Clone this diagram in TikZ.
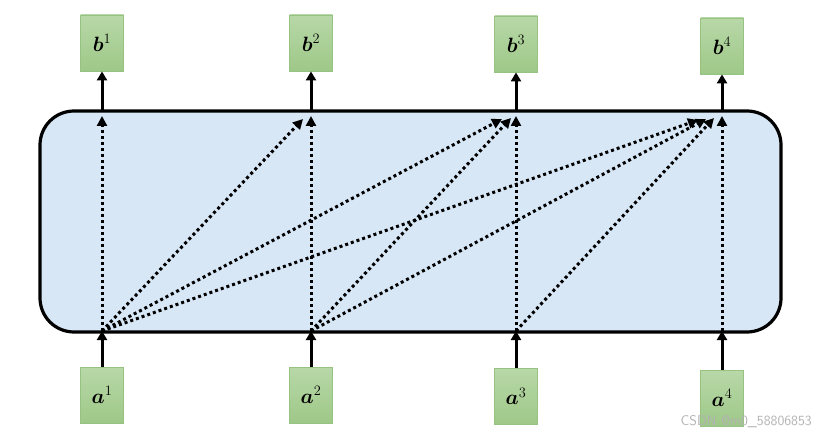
\documentclass[tikz,border=0pt]{standalone}
\usepackage{amsmath,bm}
\usetikzlibrary{arrows.meta}
\definecolor{boxfill}{RGB}{216,231,246}
\definecolor{gtop}{RGB}{184,216,168}
\definecolor{gbot}{RGB}{158,200,136}
\definecolor{gedge}{RGB}{150,195,130}
\begin{document}
\begin{tikzpicture}[x=1pt,y=-1pt,
  vec/.style={draw=gedge,line width=0.8pt,top color=gtop,bottom color=gbot,minimum width=43pt,minimum height=56pt,inner sep=0pt,font=\fontsize{22}{24}\selectfont},
  solidarr/.style={line width=3pt,-{Triangle[length=9pt,width=10pt]}},
  dotarr/.style={line width=3pt,dash pattern=on 3pt off 3pt,-{Triangle[length=10pt,width=10pt]}}]
\useasboundingbox (0,0) rectangle (837,438);
\node[draw,line width=3.2pt,fill=boxfill,rounded corners=34pt,minimum width=741pt,minimum height=221pt,inner sep=0pt] (box) at (410.5,221.5) {};
% outputs
\node[vec] (b1) at (102,43) {$\bm{b}^{1}$};
\node[vec] (b2) at (311,43) {$\bm{b}^{2}$};
\node[vec] (b3) at (516,44) {$\bm{b}^{3}$};
\node[vec] (b4) at (722,46) {$\bm{b}^{4}$};
% inputs
\node[vec] (a1) at (102,395) {$\bm{a}^{1}$};
\node[vec] (a2) at (311,395) {$\bm{a}^{2}$};
\node[vec] (a3) at (516,396.5) {$\bm{a}^{3}$};
\node[vec] (a4) at (722,398) {$\bm{a}^{4}$};
% points in box
\coordinate (i1) at (102,331);
\coordinate (i2) at (311,331);
\coordinate (i3) at (516,331);
\coordinate (i4) at (722,331);
\coordinate (o1) at (102,116);
\coordinate (o2) at (311,116);
\coordinate (o3) at (516,116);
\coordinate (o4) at (722,116);
\coordinate (o2a) at (303,119);
\coordinate (o3a) at (502,119);
\coordinate (o3b) at (511,118);
\coordinate (o4a) at (698,120);
\coordinate (o4b) at (706,119);
\coordinate (o4c) at (714,118);
\coordinate (t1) at (102,111);
\coordinate (t2) at (311,111);
\coordinate (t3) at (516,111);
\coordinate (t4) at (722,111);
% solid arrows
\draw[solidarr] (t1) -- (b1.south);
\draw[solidarr] (t2) -- (b2.south);
\draw[solidarr] (t3) -- (b3.south);
\draw[solidarr] (t4) -- (b4.south);
\draw[solidarr] (a1.north) -- (i1);
\draw[solidarr] (a2.north) -- (i2);
\draw[solidarr] (a3.north) -- (i3);
\draw[solidarr] (a4.north) -- (i4);
% dotted
\draw[dotarr] (i1) -- (o1);
\draw[dotarr] (i1) -- (o2a);
\draw[dotarr] (i1) -- (o3a);
\draw[dotarr] (i1) -- (o4a);
\draw[dotarr] (i2) -- (o2);
\draw[dotarr] (i2) -- (o3b);
\draw[dotarr] (i2) -- (o4b);
\draw[dotarr] (i3) -- (o3);
\draw[dotarr] (i3) -- (o4c);
\draw[dotarr] (i4) -- (o4);
\node[anchor=east,text=black!30,font=\sffamily\fontsize{14}{15}\selectfont,inner sep=0pt] (wm) at (812,422) {CSDN @m0\_58806853};
\end{tikzpicture}
\end{document}
